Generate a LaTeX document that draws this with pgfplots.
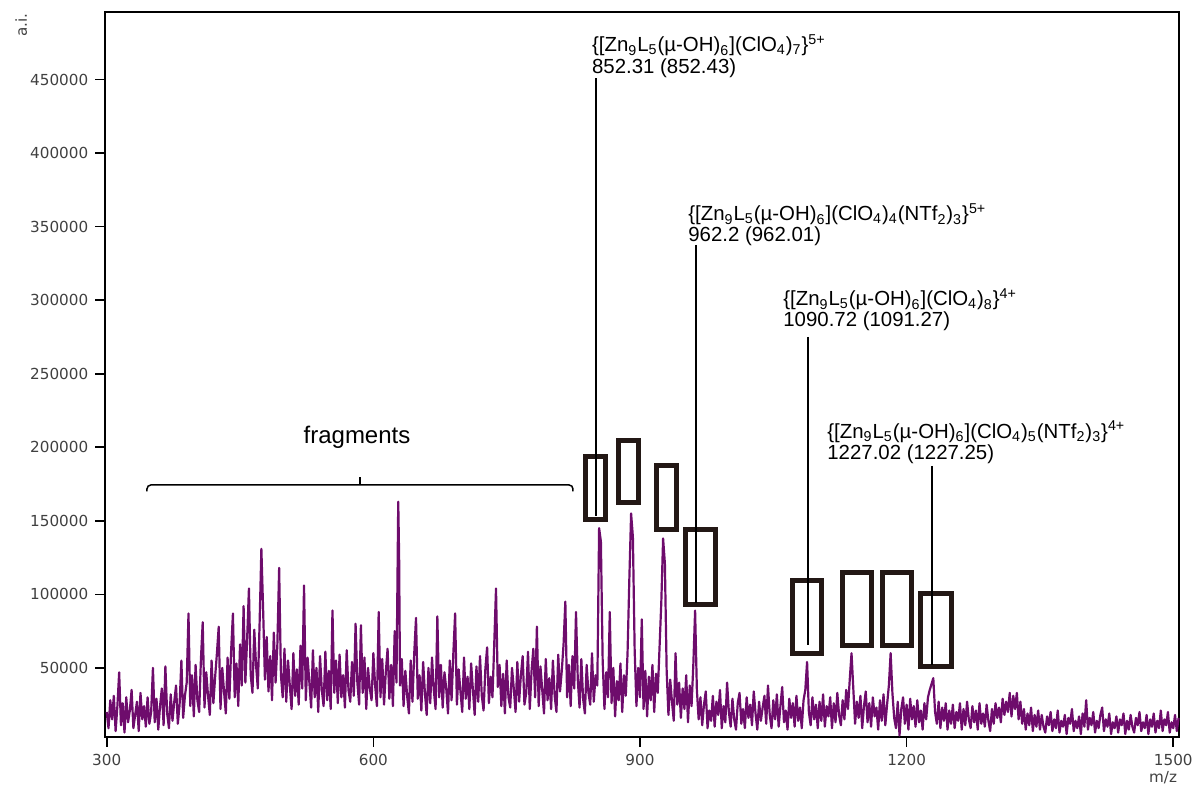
\documentclass[border=0pt]{standalone}
\usepackage{fontspec}
\setmainfont{Liberation Sans}
\newfontfamily\tickfont{DejaVu Sans}
\usepackage{pgfplots}
\usepackage{pgfplotstable}
\pgfplotsset{compat=1.18}
\definecolor{spec}{RGB}{110,12,108}
\definecolor{boxc}{RGB}{35,24,21}
\newcommand{\lab}{\fontsize{10.2}{12}\selectfont}
\pgfplotstableread[row sep=\\]{
x y\\
300 20\\ 302 9\\ 304 28\\ 306 15\\ 308 31\\ 310 7\\ 312 24\\ 314 47\\ 316 11\\ 318 26\\
320 6\\ 322 30\\ 324 13\\ 326 21\\ 328 35\\ 330 9\\ 332 18\\ 334 27\\ 336 7\\ 338 33\\
340 15\\ 342 24\\ 344 10\\ 346 30\\ 348 12\\ 350 20\\ 352 50\\ 354 13\\ 356 29\\ 358 8\\
360 24\\ 362 36\\ 364 11\\ 366 51\\ 368 19\\ 370 9\\ 372 32\\ 374 14\\ 376 27\\ 378 38\\
380 12\\ 382 25\\ 384 55\\ 386 16\\ 388 31\\ 390 40\\ 392 87\\ 394 24\\ 396 45\\ 398 17\\
400 52\\ 402 28\\ 404 20\\ 406 56\\ 408 81\\ 410 23\\ 412 47\\ 414 31\\ 416 18\\ 418 55\\
420 26\\ 422 44\\ 424 60\\ 426 78\\ 428 22\\ 430 50\\ 432 34\\ 434 19\\ 436 57\\ 438 29\\
440 62\\ 442 87\\ 444 30\\ 446 53\\ 448 24\\ 450 66\\ 452 38\\ 454 92\\ 456 40\\ 458 70\\
460 104\\ 462 45\\ 464 33\\ 466 76\\ 468 52\\ 470 36\\ 472 80\\ 474 131\\ 476 89\\ 478 42\\
480 71\\ 482 34\\ 484 58\\ 486 28\\ 488 74\\ 490 40\\ 492 66\\ 494 118\\ 496 45\\ 498 30\\
500 63\\ 502 27\\ 504 55\\ 506 38\\ 508 22\\ 510 60\\ 512 31\\ 514 49\\ 516 25\\ 518 65\\
520 36\\ 522 106\\ 524 28\\ 526 57\\ 528 40\\ 530 23\\ 532 62\\ 534 30\\ 536 50\\ 538 20\\
540 58\\ 542 35\\ 544 24\\ 546 61\\ 548 28\\ 550 48\\ 552 22\\ 554 89\\ 556 33\\ 558 55\\
560 26\\ 562 59\\ 564 30\\ 566 45\\ 568 23\\ 570 62\\ 572 35\\ 574 27\\ 576 54\\ 578 31\\
580 80\\ 582 40\\ 584 25\\ 586 79\\ 588 33\\ 590 57\\ 592 22\\ 594 50\\ 596 36\\ 598 28\\
600 60\\ 602 38\\ 604 24\\ 606 88\\ 608 30\\ 610 56\\ 612 25\\ 614 47\\ 616 63\\ 618 29\\
620 52\\ 622 24\\ 624 75\\ 626 40\\ 628 163\\ 629 125\\ 630 38\\ 632 56\\ 634 24\\ 636 48\\
638 31\\ 640 19\\ 642 55\\ 644 27\\ 646 60\\ 648 84\\ 650 29\\ 652 45\\ 654 21\\ 656 54\\
658 33\\ 660 18\\ 662 50\\ 664 26\\ 666 57\\ 668 35\\ 670 22\\ 672 85\\ 674 30\\ 676 52\\
678 23\\ 680 47\\ 682 36\\ 684 19\\ 686 55\\ 688 28\\ 690 60\\ 692 87\\ 694 25\\ 696 49\\
698 34\\ 700 20\\ 702 57\\ 704 29\\ 706 44\\ 708 22\\ 710 53\\ 712 35\\ 714 18\\ 716 51\\
718 27\\ 720 58\\ 722 31\\ 724 21\\ 726 49\\ 728 64\\ 730 26\\ 732 44\\ 734 30\\ 736 66\\
738 104\\ 740 37\\ 742 52\\ 744 24\\ 746 46\\ 748 19\\ 750 55\\ 752 30\\ 754 23\\ 756 50\\
758 36\\ 760 20\\ 762 54\\ 764 27\\ 766 45\\ 768 58\\ 770 25\\ 772 33\\ 774 61\\ 776 22\\
778 48\\ 780 63\\ 782 30\\ 784 78\\ 786 24\\ 788 51\\ 790 35\\ 792 19\\ 794 56\\ 796 28\\
798 43\\ 800 22\\ 802 55\\ 804 31\\ 806 20\\ 808 59\\ 810 34\\ 812 48\\ 814 66\\ 816 95\\
818 30\\ 820 52\\ 822 24\\ 824 58\\ 826 36\\ 828 88\\ 830 42\\ 832 23\\ 834 56\\ 836 29\\
838 19\\ 840 52\\ 842 33\\ 844 25\\ 846 60\\ 848 27\\ 850 45\\ 852 38\\ 854 145\\ 856 136\\
858 55\\ 860 22\\ 862 47\\ 864 30\\ 866 88\\ 868 26\\ 870 50\\ 872 17\\ 874 41\\ 876 28\\
878 53\\ 880 20\\ 882 45\\ 884 31\\ 886 60\\ 888 110\\ 890 155\\ 892 139\\ 894 62\\ 896 24\\
898 50\\ 900 30\\ 902 83\\ 904 22\\ 906 48\\ 908 17\\ 910 44\\ 912 28\\ 914 52\\ 916 20\\
918 46\\ 920 33\\ 922 64\\ 924 95\\ 926 138\\ 928 121\\ 930 48\\ 932 18\\ 934 42\\ 936 27\\
938 14\\ 940 60\\ 942 25\\ 944 40\\ 946 16\\ 948 36\\ 950 22\\ 952 45\\ 954 13\\ 956 38\\
958 24\\ 960 52\\ 962 89\\ 964 35\\ 966 15\\ 968 30\\ 970 11\\ 972 25\\ 974 34\\ 976 9\\
978 21\\ 980 14\\ 982 31\\ 984 10\\ 986 27\\ 988 18\\ 990 35\\ 992 9\\ 994 24\\ 996 13\\
998 40\\ 1000 20\\ 1002 10\\ 1004 29\\ 1006 15\\ 1008 8\\ 1010 26\\ 1012 33\\ 1014 12\\ 1016 22\\
1018 9\\ 1020 30\\ 1022 16\\ 1024 25\\ 1026 11\\ 1028 34\\ 1030 19\\ 1032 8\\ 1034 27\\ 1036 14\\
1038 23\\ 1040 31\\ 1042 12\\ 1044 38\\ 1046 18\\ 1048 9\\ 1050 28\\ 1052 15\\ 1054 32\\ 1056 10\\
1058 24\\ 1060 37\\ 1062 13\\ 1064 21\\ 1066 8\\ 1068 29\\ 1070 16\\ 1072 26\\ 1074 10\\ 1076 31\\
1078 14\\ 1080 23\\ 1082 9\\ 1084 28\\ 1086 35\\ 1088 54\\ 1090 20\\ 1092 11\\ 1094 30\\ 1096 15\\
1098 25\\ 1100 9\\ 1102 27\\ 1104 14\\ 1106 32\\ 1108 10\\ 1110 24\\ 1112 17\\ 1114 30\\ 1116 9\\
1118 26\\ 1120 13\\ 1122 33\\ 1124 18\\ 1126 11\\ 1128 28\\ 1130 15\\ 1132 35\\ 1134 22\\ 1136 42\\
1138 60\\ 1140 36\\ 1142 12\\ 1144 27\\ 1146 16\\ 1148 31\\ 1150 9\\ 1152 24\\ 1154 34\\ 1156 13\\
1158 26\\ 1160 10\\ 1162 30\\ 1164 17\\ 1166 23\\ 1168 8\\ 1170 28\\ 1172 14\\ 1174 32\\ 1176 11\\
1178 25\\ 1180 38\\ 1182 60\\ 1184 33\\ 1186 16\\ 1188 9\\ 1190 27\\ 1192 4\\ 1194 22\\ 1196 30\\
1198 12\\ 1200 25\\ 1202 8\\ 1204 29\\ 1206 15\\ 1208 24\\ 1210 10\\ 1212 28\\ 1214 13\\ 1216 21\\
1218 8\\ 1220 26\\ 1222 15\\ 1224 30\\ 1226 35\\ 1228 39\\ 1230 43\\ 1232 20\\ 1234 12\\ 1236 27\\
1238 9\\ 1240 23\\ 1242 14\\ 1244 26\\ 1246 8\\ 1248 21\\ 1250 12\\ 1252 25\\ 1254 9\\ 1256 20\\
1258 14\\ 1260 26\\ 1262 8\\ 1264 22\\ 1266 11\\ 1268 27\\ 1270 15\\ 1272 9\\ 1274 24\\ 1276 13\\
1278 21\\ 1280 8\\ 1282 26\\ 1284 12\\ 1286 19\\ 1288 10\\ 1290 25\\ 1292 14\\ 1294 7\\ 1296 22\\
1298 12\\ 1300 26\\ 1302 16\\ 1304 23\\ 1306 13\\ 1308 29\\ 1310 18\\ 1312 27\\ 1314 20\\ 1316 33\\
1318 17\\ 1320 31\\ 1322 22\\ 1324 33\\ 1326 15\\ 1328 27\\ 1330 12\\ 1332 22\\ 1334 8\\ 1336 19\\
1338 11\\ 1340 23\\ 1342 7\\ 1344 18\\ 1346 10\\ 1348 21\\ 1350 8\\ 1352 18\\ 1354 10\\ 1356 6\\
1358 17\\ 1360 11\\ 1362 20\\ 1364 7\\ 1366 15\\ 1368 9\\ 1370 21\\ 1372 6\\ 1374 14\\ 1376 10\\
1378 18\\ 1380 5\\ 1382 16\\ 1384 12\\ 1386 22\\ 1388 7\\ 1390 14\\ 1392 9\\ 1394 17\\ 1396 5\\
1398 19\\ 1400 10\\ 1402 28\\ 1404 8\\ 1406 16\\ 1408 11\\ 1410 20\\ 1412 6\\ 1414 14\\ 1416 9\\
1418 18\\ 1420 23\\ 1422 7\\ 1424 15\\ 1426 10\\ 1428 19\\ 1430 5\\ 1432 13\\ 1434 9\\ 1436 17\\
1438 6\\ 1440 15\\ 1442 11\\ 1444 19\\ 1446 5\\ 1448 14\\ 1450 8\\ 1452 18\\ 1454 10\\ 1456 6\\
1458 16\\ 1460 11\\ 1462 20\\ 1464 7\\ 1466 13\\ 1468 9\\ 1470 18\\ 1472 5\\ 1474 15\\ 1476 10\\
1478 19\\ 1480 6\\ 1482 14\\ 1484 9\\ 1486 21\\ 1488 7\\ 1490 15\\ 1492 11\\ 1494 20\\ 1496 6\\
1498 13\\ 1500 9\\ 1502 18\\ 1504 7\\ 1506 16\\
}\spectrum
\begin{document}
\begin{tikzpicture}
\begin{axis}[
  at={(0,0)}, anchor=south west,
  scale only axis, width=537pt, height=362.5pt,
  xmin=298.4, xmax=1506.8, ymin=3, ymax=496,
  axis line style={line width=0.9pt},
  major tick style={line width=0.8pt, black},
  major tick length=5pt,
  tick align=outside, xtick pos=bottom, ytick pos=left,
  xtick={300,600,900,1200,1500}, xticklabels={300,600,900,1200,1500},
  ytick={50,100,150,200,250,300,350,400,450},
  yticklabels={50000,100000,150000,200000,250000,300000,350000,400000,450000},
  ticklabel style={font=\tickfont\fontsize{7.6}{9}\selectfont, text=black!75},
  clip=false,
]
\addplot[spec, line width=1.1pt, line join=round, mark=none] table[x=x, y=y] {\spectrum};
% boxes
\begin{scope}[draw=boxc, line width=2.5pt]
\draw (axis cs:838.7,150.9) rectangle (axis cs:861.2,193.7);
\draw (axis cs:875.8,162.5) rectangle (axis cs:898.3,204.6);
\draw (axis cs:918.6,144.1) rectangle (axis cs:941.1,187.6);
\draw (axis cs:951.2,93.1) rectangle (axis cs:984.9,144.1);
\draw (axis cs:1071.6,59.8) rectangle (axis cs:1104.6,109.2);
\draw (axis cs:1127.8,65.4) rectangle (axis cs:1160.8,114.9);
\draw (axis cs:1172.8,65.4) rectangle (axis cs:1205.8,114.9);
\draw (axis cs:1215.9,51.1) rectangle (axis cs:1250.8,100.6);
\end{scope}
% leader lines
\begin{scope}[black, line width=0.9pt]
\draw (axis cs:850.5,451.1) -- (axis cs:850.5,153.3);
\draw (axis cs:963.0,337.6) -- (axis cs:963.0,94.1);
\draw (axis cs:1089.0,275.0) -- (axis cs:1089.0,65.6);
\draw (axis cs:1228.5,187.3) -- (axis cs:1228.5,52.0);
\end{scope}
% brace
\draw[black, line width=0.75pt, rounded corners=2pt] (axis cs:345.3,170.0) -- (axis cs:345.3,174.4) -- (axis cs:824.6,174.4) -- (axis cs:824.6,170.0);
\draw[black, line width=0.75pt] (axis cs:585.0,174.4) -- (axis cs:585.0,179.5);
\node[anchor=base, font=\fontsize{12}{14}\selectfont] at (axis cs:581.6,202.9) {fragments};
% labels
\node[anchor=base west, font=\lab, inner sep=0pt] at (axis cs:845.7,468.8) {\{[Zn\textsubscript{9}L\textsubscript{5}(µ-OH)\textsubscript{6}](ClO\textsubscript{4})\textsubscript{7}\}\textsuperscript{5+}};
\node[anchor=base west, font=\lab, inner sep=0pt] at (axis cs:845.7,454.5) {852.31 (852.43)};
\node[anchor=base west, font=\lab, inner sep=0pt] at (axis cs:954.0,353.9) {\{[Zn\textsubscript{9}L\textsubscript{5}(µ-OH)\textsubscript{6}](ClO\textsubscript{4})\textsubscript{4}(NTf\textsubscript{2})\textsubscript{3}\}\textsuperscript{5+}};
\node[anchor=base west, font=\lab, inner sep=0pt] at (axis cs:954.0,339.6) {962.2 (962.01)};
\node[anchor=base west, font=\lab, inner sep=0pt] at (axis cs:1060.9,296.1) {\{[Zn\textsubscript{9}L\textsubscript{5}(µ-OH)\textsubscript{6}](ClO\textsubscript{4})\textsubscript{8}\}\textsuperscript{4+}};
\node[anchor=base west, font=\lab, inner sep=0pt] at (axis cs:1060.9,281.8) {1090.72 (1091.27)};
\node[anchor=base west, font=\lab, inner sep=0pt] at (axis cs:1110.4,206.3) {\{[Zn\textsubscript{9}L\textsubscript{5}(µ-OH)\textsubscript{6}](ClO\textsubscript{4})\textsubscript{5}(NTf\textsubscript{2})\textsubscript{3}\}\textsuperscript{4+}};
\node[anchor=base west, font=\lab, inner sep=0pt] at (axis cs:1110.4,192.0) {1227.02 (1227.25)};
\end{axis}
\node[rotate=90, font=\tickfont\fontsize{7.6}{9}\selectfont, text=black!75] at (-42pt,356pt) {a.i.};
\node[font=\tickfont\fontsize{7.6}{9}\selectfont, text=black!75] at (528.9pt,-20.5pt) {m/z};
\pgfresetboundingbox
\useasboundingbox (-52.65pt,-24pt) rectangle (546.35pt,368.5pt);
\end{tikzpicture}
\end{document}
